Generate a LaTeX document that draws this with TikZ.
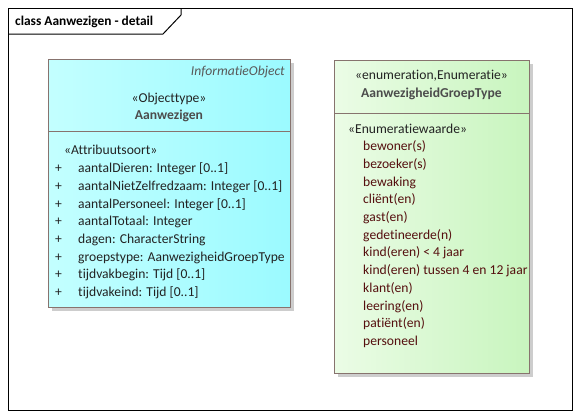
\documentclass[tikz,border=0pt]{standalone}
\usepackage{fontspec}
\setmainfont[Ligatures=NoCommon]{Carlito}
\usepackage{tikz}
\usetikzlibrary{positioning}
\definecolor{umlborder}{RGB}{135,115,110}
\definecolor{umlshadow}{RGB}{205,205,205}
\definecolor{objleft}{RGB}{195,255,255}
\definecolor{objright}{RGB}{155,250,255}
\definecolor{enumleft}{RGB}{235,252,230}
\definecolor{enumright}{RGB}{200,245,190}
\definecolor{attrtext}{RGB}{35,35,35}
\definecolor{littext}{RGB}{85,15,15}
\tikzstyle{txt} = [inner sep=0pt, text height=10pt, text depth=3pt,
	font=\fontsize{13.6}{16}\selectfont, text=attrtext]
\tikzstyle{attr} = [txt, anchor=west]
\tikzstyle{lit} = [txt, anchor=west, text=littext]
\tikzstyle{umlbox} = [draw=umlborder, line width=0.8pt]

\begin{document}
\begin{tikzpicture}[x=1pt,y=-1pt]
				\useasboundingbox (0,0) rectangle (580,418);
				
				% diagram frame
				\draw [line width=1pt] (8,8) rectangle (572,410);
				\draw [line width=1pt] (8,34) -- (163,34) -- (181,15) -- (181,8);
				\node [attr, text=black, font=\fontsize{13.4}{16}\selectfont\bfseries] (title) at (15,22) {class Aanwezigen - detail};
				
				% objecttype
				\fill [umlshadow] (52,63) rectangle (294,311);
				\shade [left color=objleft, right color=objright] (48,59) rectangle (290,307);
				\draw [umlbox] (48,59) rectangle (290,307);
				\draw [umlbox] (48,131) -- (290,131);
				\node [txt, anchor=east, font=\fontsize{13.6}{16}\selectfont\itshape, text=black!65] (super) at (285,72) {InformatieObject};
				\node [txt] (stereo) at (169,99) {«Objecttype»};
				\node [txt, font=\fontsize{13.6}{16}\selectfont\bfseries, text=black!70] (Aanwezigen) at (169,116) {Aanwezigen};
				\node [attr] (attrsoort) at (64,151) {«Attribuutsoort»};
				\foreach \a [count=\i] in {{aantalDieren: Integer [0..1]},
						{aantalNietZelfredzaam: Integer [0..1]},
						{aantalPersoneel: Integer [0..1]},
						{aantalTotaal: Integer},
						{dagen: CharacterString},
						{groepstype: AanwezigheidGroepType},
						{tijdvakbegin: Tijd [0..1]},
						{tijdvakeind: Tijd [0..1]}}{
					\node [attr] (plus\i) at (55,{151.5+17.7*\i}) {+};
					\node [attr] (attr\i) at (78,{151.5+17.7*\i}) {\a};
				}
				
				% enumeratie
				\fill [umlshadow] (338,64) rectangle (533,377);
				\shade [left color=enumleft, right color=enumright] (334,60) rectangle (529,373);
				\draw [umlbox] (334,60) rectangle (529,373);
				\draw [umlbox] (334,113) -- (529,113);
				\node [txt] (enumstereo) at (431.5,76) {«enumeration,Enumeratie»};
				\node [txt, font=\fontsize{13.6}{16}\selectfont\bfseries, text=black!70] (GroepType) at (431.5,94) {AanwezigheidGroepType};
				\node [attr] (waarde) at (348,130) {«Enumeratiewaarde»};
				\foreach \w [count=\i] in {bewoner(s), bezoeker(s), bewaking, cliënt(en),
						gast(en), gedetineerde(n), kind(eren) < 4 jaar,
						kind(eren) tussen 4 en 12 jaar, klant(en), leering(en),
						patiënt(en), personeel}{
					\node [lit] (lit\i) at (363,{129.5+17.7*\i}) {\w};
				}
				
				\end{tikzpicture}
\end{document}
